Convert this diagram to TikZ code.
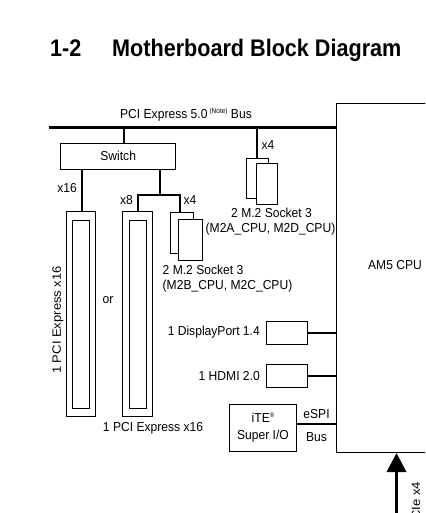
\documentclass[tikz,border=0pt]{standalone}
\usepackage{fontspec}
\setmainfont{Liberation Sans}
\usetikzlibrary{arrows.meta}
\begin{document}
\begin{tikzpicture}[x=1pt,y=-1pt,
  lbl/.style={inner sep=0pt, font=\fontsize{13}{15}\selectfont, xscale=0.93},
  box/.style={draw, line width=0.8pt, inner sep=0pt, fill=white},
  wire/.style={line width=1.7pt},
  bus/.style={line width=3.6pt},
  ttl/.style={inner sep=0pt, anchor=base west, font=\fontsize{24}{28}\bfseries\selectfont, xscale=0.9},
]
\useasboundingbox (0,0) rectangle (425,513);
\clip (0,0) rectangle (425,513);
% title
\node[ttl] (num) at (50,57) {1-2};
\node[ttl] (title) at (112,57) {Motherboard Block Diagram};
% CPU
\node[draw, line width=1pt, minimum width=120pt, minimum height=349pt, anchor=north west] (cpu) at (336,103) {};
\node[lbl] (cpulbl) at (395,265) {AM5 CPU};
% bus
\coordinate (busL) at (49,127.5);
\coordinate (busR) at (336,127.5);
\draw[bus] (busL) -- (busR);
\node[lbl, anchor=base] (buslbl) at (186,119) {PCI Express 5.0\,\raisebox{0.45em}{\fontsize{7}{8}\selectfont(Note)} Bus};
% switch
\node[box, minimum width=115pt, minimum height=26pt] (sw) at (118.2,156) {};
\node[lbl] (swlbl) at (118.2,156) {Switch};
\coordinate (swtop) at (124.3,127.5);
\draw[wire] (swtop) -- (124.3,143);
% slots
\node[box, minimum width=29pt, minimum height=205pt] (slot1) at (81,314) {};
\node[box, minimum width=17pt, minimum height=188pt] (slot1i) at (81,314) {};
\node[box, minimum width=30pt, minimum height=205pt] (slot2) at (137.5,314) {};
\node[box, minimum width=17pt, minimum height=188pt] (slot2i) at (137.5,314) {};
\draw[wire] (82,169) -- (slot1.north -| 82,0);
\node[lbl] (x16) at (67,188) {x16};
\node[lbl, rotate=90] (pcie1) at (58,320) {1 PCI Express x16};
\node[lbl] (or) at (108,300) {or};
\node[lbl] (pcie2) at (153,428) {1 PCI Express x16};
% switch branches
\coordinate (brA) at (137.8,195);
\coordinate (brB) at (180,195);
\draw[wire] (160,169) -- (160,195);
\draw[wire] (slot2.north -| brA) -- (brA) -- (brB) -- (180,212);
\node[lbl] (x8) at (126.5,200) {x8};
\node[lbl] (x4a) at (190,200) {x4};
% left M.2
\node[box, minimum width=23pt, minimum height=41pt, anchor=north west] (m2b1) at (170,212) {};
\node[box, minimum width=24pt, minimum height=41pt, anchor=north west] (m2b2) at (178,219) {};
\node[lbl, anchor=base west] (m2bl1) at (162.5,274) {2 M.2 Socket 3};
\node[lbl, anchor=base west] (m2bl2) at (162.5,289) {(M2B\_CPU, M2C\_CPU)};
% right M.2
\draw[wire] (257,127.5) -- (257,158);
\node[lbl] (x4b) at (268,145) {x4};
\node[box, minimum width=22pt, minimum height=40pt, anchor=north west] (m2a1) at (246,158) {};
\node[box, minimum width=21pt, minimum height=41pt, anchor=north west] (m2a2) at (256,163) {};
\node[lbl] (m2al1) at (271.5,213) {2 M.2 Socket 3};
\node[lbl] (m2al2) at (270.5,229) {(M2A\_CPU, M2D\_CPU)};
% DisplayPort
\node[box, minimum width=40.5pt, minimum height=22.5pt] (dp) at (287,333) {};
\node[lbl, anchor=east] (dplbl) at (260,332) {1 DisplayPort 1.4};
\draw[wire] (dp.east) -- (dp.east -| cpu.west);
% HDMI
\node[box, minimum width=40.5pt, minimum height=23pt] (hdmi) at (287,376) {};
\node[lbl, anchor=east] (hdmilbl) at (260,376) {1 HDMI 2.0};
\draw[wire] (hdmi.east) -- (hdmi.east -| cpu.west);
% Super I/O
\node[box, minimum width=67.5pt, minimum height=47.5pt] (sio) at (263,428) {};
\node[lbl, align=center] (siolbl) at (263,427.5) {iTE\raisebox{0.45em}{\fontsize{6.5}{7}\selectfont\textregistered}\\[2pt]Super I/O};
\draw[wire] (sio.east |- 0,424) -- (cpu.west |- 0,424);
\node[lbl] (espi) at (316.5,414) {eSPI};
\node[lbl] (espib) at (316.5,437) {Bus};
% PCIe arrow
\coordinate (arrbot) at (396.5,520);
\draw[line width=3.5pt, -{Triangle[width=19pt,length=19pt]}] (arrbot) -- (arrbot |- cpu.south);
\node[lbl, rotate=90, anchor=east] (pciex4) at (416,482) {PCIe x4};
\end{tikzpicture}
\end{document}
